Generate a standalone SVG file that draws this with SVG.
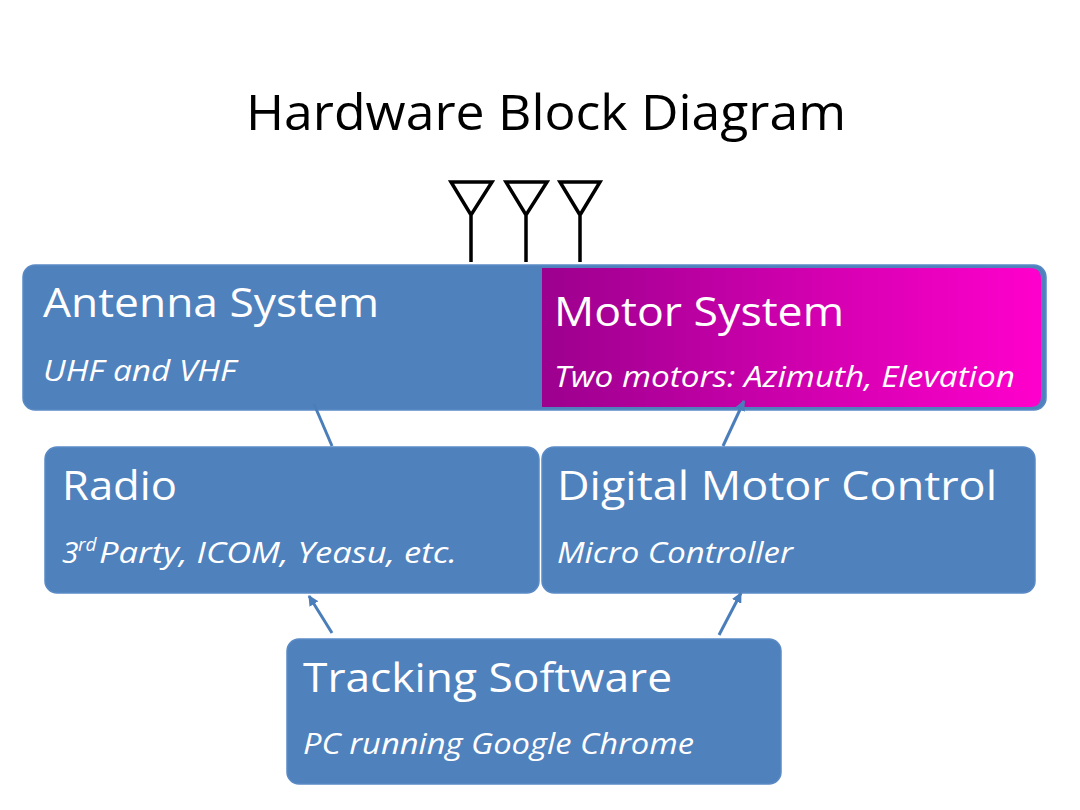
<svg xmlns="http://www.w3.org/2000/svg" width="1080" height="810" viewBox="0 0 1080 810">
<defs>
<linearGradient id="mg" x1="0" y1="0" x2="1" y2="0">
<stop offset="0" stop-color="#9c008e"/>
<stop offset="1" stop-color="#ff00cc"/>
</linearGradient>
<marker id="ah" viewBox="0 0 10 10" refX="9" refY="5" markerWidth="3.5" markerHeight="3.5" orient="auto" markerUnits="strokeWidth">
<path d="M0,0 L10,5 L0,10 z" fill="#4a7ebb"/>
</marker>
<style>
.box{fill:#4f81bd;stroke:#5a8ac6;stroke-width:1.5}
.h{font-family:"Open Sans","Liberation Sans",sans-serif;font-size:40px;fill:#ffffff}
.s{font-family:"Open Sans","Liberation Sans",sans-serif;font-size:30px;font-style:italic;fill:#ffffff}
.ant{fill:none;stroke:#000000;stroke-width:3.5;stroke-linejoin:miter}
.con{stroke:#4a7ebb;stroke-width:3;fill:none}
</style>
</defs>
<rect width="1080" height="810" fill="#ffffff"/>
<text x="546" y="130" text-anchor="middle" font-family="Open Sans, Liberation Sans, sans-serif" font-size="50" fill="#000000" textLength="600" lengthAdjust="spacingAndGlyphs">Hardware Block Diagram</text>
<g id="antennas">
<path class="ant" d="M451,182 L492,182 L471,215 Z M471,215 L471,262"/>
<path class="ant" d="M506,182 L547,182 L526,215 Z M526,215 L526,262"/>
<path class="ant" d="M560,182 L600,182 L580,215 Z M580,215 L580,262"/>
</g>
<g id="antenna-system">
<rect class="box" x="23" y="265" width="1023" height="145" rx="12"/>
<text class="h" x="43" y="317" textLength="336" lengthAdjust="spacingAndGlyphs">Antenna System</text>
<text class="s" x="43" y="381" textLength="193" lengthAdjust="spacingAndGlyphs">UHF and VHF</text>
</g>
<g id="motor-system">
<path d="M542,268 L1030,268 Q1041,268 1041,279 L1041,396 Q1041,407 1030,407 L542,407 Z" fill="url(#mg)"/>
<text class="h" x="554" y="326" textLength="290" lengthAdjust="spacingAndGlyphs">Motor System</text>
<text class="s" x="554" y="387" textLength="461" lengthAdjust="spacingAndGlyphs">Two motors: Azimuth, Elevation</text>
</g>
<g id="radio">
<rect class="box" x="45" y="447" width="494" height="146" rx="12"/>
<text class="h" x="62" y="500" textLength="115" lengthAdjust="spacingAndGlyphs">Radio</text>
<text class="s" x="62" y="563">3<tspan x="78" font-size="19" dy="-12">rd</tspan><tspan x="99" dy="12" textLength="358" lengthAdjust="spacingAndGlyphs">Party, ICOM, Yeasu, etc.</tspan></text>
</g>
<g id="digital-motor-control">
<rect class="box" x="542" y="447" width="493" height="146" rx="12"/>
<text class="h" x="557" y="500" textLength="440" lengthAdjust="spacingAndGlyphs">Digital Motor Control</text>
<text class="s" x="557" y="563" textLength="236" lengthAdjust="spacingAndGlyphs">Micro Controller</text>
</g>
<g id="tracking-software">
<rect class="box" x="287" y="639" width="494" height="145" rx="12"/>
<text class="h" x="303" y="692" textLength="369" lengthAdjust="spacingAndGlyphs">Tracking Software</text>
<text class="s" x="303" y="754" textLength="391" lengthAdjust="spacingAndGlyphs">PC running Google Chrome</text>
</g>
<g id="connectors">
<line class="con" x1="332" y1="446" x2="314" y2="404"/>
<line class="con" x1="332" y1="633" x2="309" y2="596" marker-end="url(#ah)"/>
<line class="con" x1="723" y1="446" x2="744" y2="401" marker-end="url(#ah)"/>
<line class="con" x1="719" y1="635" x2="741" y2="593" marker-end="url(#ah)"/>
</g>
</svg>
